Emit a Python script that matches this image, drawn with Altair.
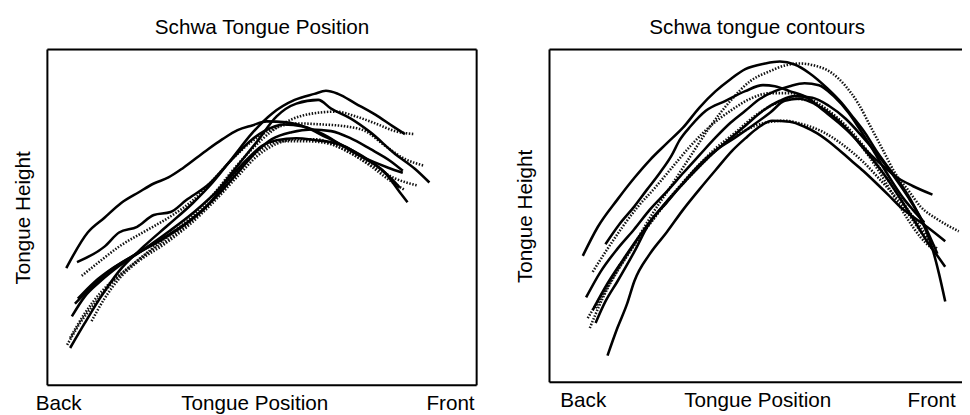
import altair as alt
import pandas as pd

FONT = "Liberation Sans"

# ---------------- Left panel: "Schwa Tongue Position" (x: back->front 0-100, y: height 0-100)
ls1_x = [5.3, 8.7, 12.2, 16.7, 22.5, 28.2, 33.9, 38.5, 43.1, 47.7, 52.3, 57.6, 62.2, 64.9, 67.7, 71.8, 76.4, 80.5, 83.3]
ls1_y = [11.1, 18.5, 25.8, 34.0, 41.4, 47.8, 54.3, 60.4, 67.7, 75.1, 80.9, 85.0, 86.8, 87.7, 86.8, 83.9, 80.6, 77.1, 74.8]
ls2_x = [5.7, 8.7, 12.2, 16.7, 22.5, 28.2, 33.9, 39.7, 44.3, 48.9, 53.4, 58.0, 63.1, 66.1, 70.6, 75.2, 81.0, 85.6, 89.0]
ls2_y = [20.5, 26.4, 30.8, 35.5, 40.5, 45.7, 51.3, 58.1, 65.4, 72.7, 80.1, 83.9, 85.0, 82.4, 79.5, 75.4, 68.9, 64.5, 60.4]
ls3_x = [4.4, 9.4, 13.3, 17.2, 21.3, 24.8, 28.2, 31.7, 36.9, 40.8, 44.3, 47.7, 51.1, 55.7, 60.3, 64.9, 69.5, 74.1, 78.7, 82.1]
ls3_y = [34.9, 45.5, 49.9, 54.3, 57.5, 60.1, 61.9, 64.8, 69.8, 73.3, 76.0, 77.4, 78.6, 78.3, 76.8, 73.9, 71.0, 67.7, 63.3, 58.9]
ls4_x = [6.9, 13.3, 16.7, 20.9, 24.8, 28.7, 32.3, 37.8, 42.7, 47.2, 50.5, 55.0, 59.6, 64.2, 68.8, 73.4, 79.4, 82.8]
ls4_y = [36.7, 41.3, 45.5, 47.2, 50.7, 51.6, 55.1, 60.1, 66.9, 72.7, 75.7, 77.7, 77.1, 74.8, 71.3, 68.0, 64.8, 63.3]
ls5_x = [6.4, 9.9, 14.4, 20.2, 25.9, 31.7, 37.4, 42.0, 46.6, 50.0, 53.4, 58.0, 62.6, 66.1, 69.5, 74.1, 78.7, 82.1, 83.9]
ls5_y = [24.3, 28.7, 34.0, 38.7, 42.8, 47.5, 53.7, 61.0, 67.4, 71.3, 73.0, 73.6, 73.0, 72.4, 71.0, 67.4, 63.3, 57.5, 54.5]
ls6_x = [7.1, 11.0, 15.6, 21.3, 27.1, 32.8, 38.5, 43.8, 48.4, 52.3, 56.9, 61.5, 66.1, 70.6, 75.2, 79.8, 82.8]
ls6_y = [25.8, 30.8, 35.2, 39.6, 44.0, 48.7, 55.1, 62.5, 69.2, 73.3, 75.4, 76.2, 75.7, 73.6, 70.4, 66.9, 63.9]

ld1_x = [4.6, 7.6, 11.0, 15.6, 21.3, 27.1, 32.8, 38.5, 43.1, 47.7, 52.3, 56.9, 61.5, 67.2, 71.8, 76.4, 81.0, 85.6]
ld1_y = [12.0, 18.5, 24.3, 31.1, 37.5, 43.4, 49.3, 56.6, 63.9, 70.4, 75.7, 79.2, 80.9, 81.5, 80.1, 78.0, 75.7, 74.8]
ld2_x = [8.0, 12.2, 16.7, 22.5, 28.2, 33.9, 38.5, 43.1, 47.7, 52.3, 58.0, 63.8, 69.5, 74.1, 78.7, 83.3, 87.8]
ld2_y = [32.6, 36.9, 41.3, 45.7, 49.9, 55.1, 61.0, 67.4, 72.7, 76.2, 78.0, 77.7, 77.1, 75.7, 71.3, 67.4, 65.4]
ld3_x = [10.3, 13.3, 16.7, 21.3, 27.1, 32.8, 38.5, 44.3, 48.9, 53.4, 58.0, 62.6, 67.2, 71.8, 76.4, 81.0, 86.2]
ld3_y = [19.1, 25.8, 31.7, 37.0, 41.9, 47.5, 54.3, 62.2, 68.3, 71.9, 73.3, 73.3, 71.3, 68.3, 64.8, 61.6, 59.5]
ld4_x = [5.3, 8.7, 12.2, 17.9, 23.6, 29.4, 35.1, 40.8, 45.4, 50.0, 54.6, 60.3, 66.1, 70.6, 75.2, 79.8, 83.3]
ld4_y = [14.1, 21.4, 27.3, 34.0, 39.6, 44.6, 50.7, 58.1, 65.4, 70.4, 72.7, 72.7, 71.8, 69.2, 65.4, 61.0, 58.1]

# ---------------- Right panel: "Schwa tongue contours"
rs1_x = [8.1, 11.7, 16.5, 20.6, 24.4, 28.5, 32.5, 36.4, 40.4, 44.0, 47.6, 52.4, 56.0, 59.6, 63.2, 67.5, 71.0, 73.9, 76.8, 79.4, 82.3, 85.2, 87.8, 89.9, 91.9, 93.1, 94.7, 96.2]
rs1_y = [38.0, 46.6, 54.9, 61.4, 66.8, 71.8, 76.6, 82.5, 87.5, 91.1, 94.1, 95.8, 96.4, 95.5, 92.9, 88.4, 84.0, 79.5, 74.8, 69.7, 64.7, 59.9, 54.9, 49.9, 44.5, 40.1, 32.6, 24.3]
rs2_x = [13.6, 17.0, 20.6, 23.7, 26.8, 29.7, 31.6, 34.4, 38.0, 42.8, 47.6, 51.9, 54.8, 58.4, 62.7, 66.7, 70.3, 73.9, 77.5, 81.1, 84.7, 88.3, 93.1]
rs2_y = [41.5, 47.5, 52.8, 57.9, 62.9, 68.2, 72.7, 77.1, 81.6, 84.6, 87.5, 89.3, 89.0, 87.5, 85.5, 81.6, 78.0, 73.9, 69.1, 65.0, 61.4, 59.0, 56.4]
rs3_x = [8.9, 12.4, 16.5, 20.6, 24.4, 28.5, 32.5, 36.4, 40.4, 44.0, 47.6, 51.2, 54.8, 58.4, 62.0, 65.5, 69.1, 72.7, 75.6, 78.7, 81.1, 83.5, 85.9, 88.3, 91.1]
rs3_y = [25.5, 33.2, 40.1, 46.0, 51.9, 57.3, 62.9, 68.2, 73.6, 78.0, 81.6, 85.2, 87.5, 89.0, 89.9, 89.3, 86.0, 81.0, 75.7, 69.7, 64.7, 59.9, 55.5, 51.9, 48.1]
rs4_x = [11.2, 13.6, 16.5, 20.6, 24.4, 28.5, 32.5, 36.4, 40.4, 45.2, 49.3, 53.6, 57.2, 60.8, 64.4, 67.9, 71.5, 75.1, 78.7, 82.3, 85.9, 88.8, 91.9, 94.3, 96.2]
rs4_y = [17.8, 24.3, 30.3, 39.2, 48.1, 54.0, 59.9, 65.3, 69.7, 73.6, 77.1, 81.0, 84.6, 85.2, 83.7, 81.0, 77.1, 72.1, 66.8, 60.8, 54.0, 48.4, 42.1, 38.0, 34.7]
rs5_x = [14.1, 16.5, 18.9, 20.6, 24.4, 28.5, 32.5, 36.4, 40.4, 44.5, 47.6, 50.7, 54.1, 58.4, 62.0, 65.1, 69.1, 73.2, 76.3, 79.4, 82.3, 85.2, 88.3, 91.9, 96.2]
rs5_y = [8.0, 16.3, 23.7, 30.3, 38.6, 45.1, 51.9, 57.9, 63.8, 69.7, 73.3, 76.5, 78.6, 78.3, 76.8, 74.8, 71.2, 66.8, 63.5, 59.9, 56.4, 52.8, 49.8, 46.6, 42.4]
rs6_x = [10.5, 14.1, 17.7, 21.3, 24.9, 28.9, 33.3, 38.0, 42.8, 47.6, 51.9, 56.0, 59.6, 63.9, 67.9, 72.0, 75.8, 79.9, 83.5, 87.1, 90.7, 94.3]
rs6_y = [21.7, 29.7, 36.5, 43.0, 49.0, 54.9, 60.8, 66.8, 72.1, 77.1, 81.6, 84.6, 86.0, 85.5, 83.1, 79.2, 74.2, 68.2, 62.3, 55.8, 48.4, 38.6]

rd1_x = [9.8, 12.9, 16.5, 20.6, 24.9, 29.7, 34.4, 39.2, 44.0, 48.8, 53.6, 57.2, 60.8, 64.4, 68.7, 72.0, 75.1, 78.2, 81.1, 84.0, 87.1, 90.2, 94.3, 99.5]
rd1_y = [16.3, 25.2, 33.5, 41.5, 50.4, 59.3, 68.2, 77.1, 84.6, 90.5, 93.5, 95.2, 95.8, 95.2, 92.9, 89.0, 83.7, 76.5, 69.7, 62.9, 57.9, 52.8, 49.0, 45.4]
rd2_x = [10.5, 14.1, 17.7, 21.3, 25.6, 29.7, 34.4, 39.2, 44.0, 48.8, 53.6, 58.4, 63.2, 67.9, 72.7, 76.8, 80.6, 84.2, 87.1, 90.2, 93.5]
rd2_y = [33.2, 40.1, 46.6, 52.5, 58.4, 64.4, 71.2, 77.1, 81.6, 85.2, 86.9, 86.9, 85.2, 81.6, 76.3, 70.3, 63.8, 57.3, 51.9, 46.6, 40.6]
rd3_x = [9.3, 12.9, 16.5, 20.6, 24.9, 28.9, 33.3, 38.0, 42.8, 47.6, 52.4, 57.2, 62.0, 66.7, 71.5, 76.3, 81.1, 84.7, 87.8, 90.7, 94.3]
rd3_y = [19.3, 26.7, 34.1, 41.5, 48.4, 54.9, 60.8, 66.8, 72.1, 75.7, 78.0, 78.6, 77.4, 75.1, 71.2, 66.2, 59.9, 54.9, 49.6, 44.5, 40.1]
rd4_x = [11.2, 14.6, 18.4, 22.5, 26.6, 30.9, 35.6, 40.4, 45.2, 50.0, 54.8, 59.6, 64.4, 69.1, 73.4, 77.5, 81.1, 84.2, 87.1, 90.2, 93.1]
rd4_y = [22.3, 29.7, 37.1, 44.5, 51.3, 57.9, 64.4, 70.3, 75.1, 80.1, 83.7, 85.2, 84.0, 80.1, 74.8, 68.2, 61.4, 54.9, 49.0, 43.6, 40.1]

# axis label positions/texts
left_label_pos = [2.5, 48.2, 93.8]
right_label_pos = [8.1, 50.5, 92.8]
label_text = ["Back", "Tongue Position", "Front"]

left_solid = [(ls1_x, ls1_y), (ls2_x, ls2_y), (ls3_x, ls3_y), (ls4_x, ls4_y), (ls5_x, ls5_y), (ls6_x, ls6_y)]
left_dotted = [(ld1_x, ld1_y), (ld2_x, ld2_y), (ld3_x, ld3_y), (ld4_x, ld4_y)]
right_solid = [(rs1_x, rs1_y), (rs2_x, rs2_y), (rs3_x, rs3_y), (rs4_x, rs4_y), (rs5_x, rs5_y), (rs6_x, rs6_y)]
right_dotted = [(rd1_x, rd1_y), (rd2_x, rd2_y), (rd3_x, rd3_y), (rd4_x, rd4_y)]


def to_df(curves, prefix):
    rows = []
    for k, (xs, ys) in enumerate(curves):
        for i, (a, b) in enumerate(zip(xs, ys)):
            rows.append({"curve": f"{prefix}{k}", "i": i, "x": a, "y": b})
    return pd.DataFrame(rows)


def label_expr(pos, texts):
    expr = f"'{texts[-1]}'"
    for j in range(len(pos) - 2, -1, -1):
        cut = (pos[j] + pos[j + 1]) / 2
        expr = f"datum.value < {cut} ? '{texts[j]}' : ({expr})"
    return expr


def panel(solid, dotted, title, label_pos, w, h, xmax, frame_h, frame_v):
    xscale = alt.Scale(domain=[0, xmax], nice=False, zero=False)
    yscale = alt.Scale(domain=[0, 100], nice=False, zero=False)
    xax = alt.Axis(values=label_pos, labelExpr=label_expr(label_pos, label_text),
                   domain=False, ticks=False, tickSize=0, grid=False, title=None,
                   labelFont=FONT, labelFontSize=21, labelColor="black",
                   labelPadding=8, labelFlush=False, labelOverlap=False, labelBound=False)
    yax = alt.Axis(labels=False, ticks=False, tickSize=0, domain=False, grid=False,
                   title="Tongue Height", titleFont=FONT, titleFontSize=21,
                   titleFontWeight="normal", titleColor="black", titlePadding=14)
    x = alt.X("x:Q", scale=xscale, axis=xax)
    y = alt.Y("y:Q", scale=yscale, axis=yax)
    sol = alt.Chart(to_df(solid, "s")).mark_line(
        color="black", strokeWidth=2.6, interpolate="monotone"
    ).encode(x=x, y=y, detail="curve:N", order="i:Q")
    dot = alt.Chart(to_df(dotted, "d")).mark_line(
        color="#111111", strokeWidth=2.6, strokeDash=[1.5, 1.6], interpolate="monotone"
    ).encode(x=x, y=y, detail="curve:N", order="i:Q")
    hr = alt.Chart(pd.DataFrame({"v": frame_h})).mark_rule(color="black", strokeWidth=2).encode(
        y=alt.Y("v:Q", scale=yscale, axis=yax))
    vr = alt.Chart(pd.DataFrame({"v": frame_v})).mark_rule(color="black", strokeWidth=2).encode(
        x=alt.X("v:Q", scale=xscale, axis=xax))
    return alt.layer(dot, sol, hr, vr).properties(
        width=w, height=h,
        title=alt.TitleParams(title, font=FONT, fontSize=21, fontWeight="normal",
                              color="black", baseline="alphabetic", offset=-6),
    )


left = panel(left_solid, left_dotted, "Schwa Tongue Position", left_label_pos, 436, 341, 100, [0, 100], [0, 100])
right = panel(right_solid, right_dotted, "Schwa tongue contours", right_label_pos, 422, 338, 101, [0, 100], [0])

chart = alt.hconcat(left, right, spacing=36).properties(
    padding={"left": 4, "top": 5, "right": -5, "bottom": -3}
).configure_view(strokeOpacity=0).configure(background="white")

chart.save("out.html", embed_options={"renderer": "svg", "actions": False})
